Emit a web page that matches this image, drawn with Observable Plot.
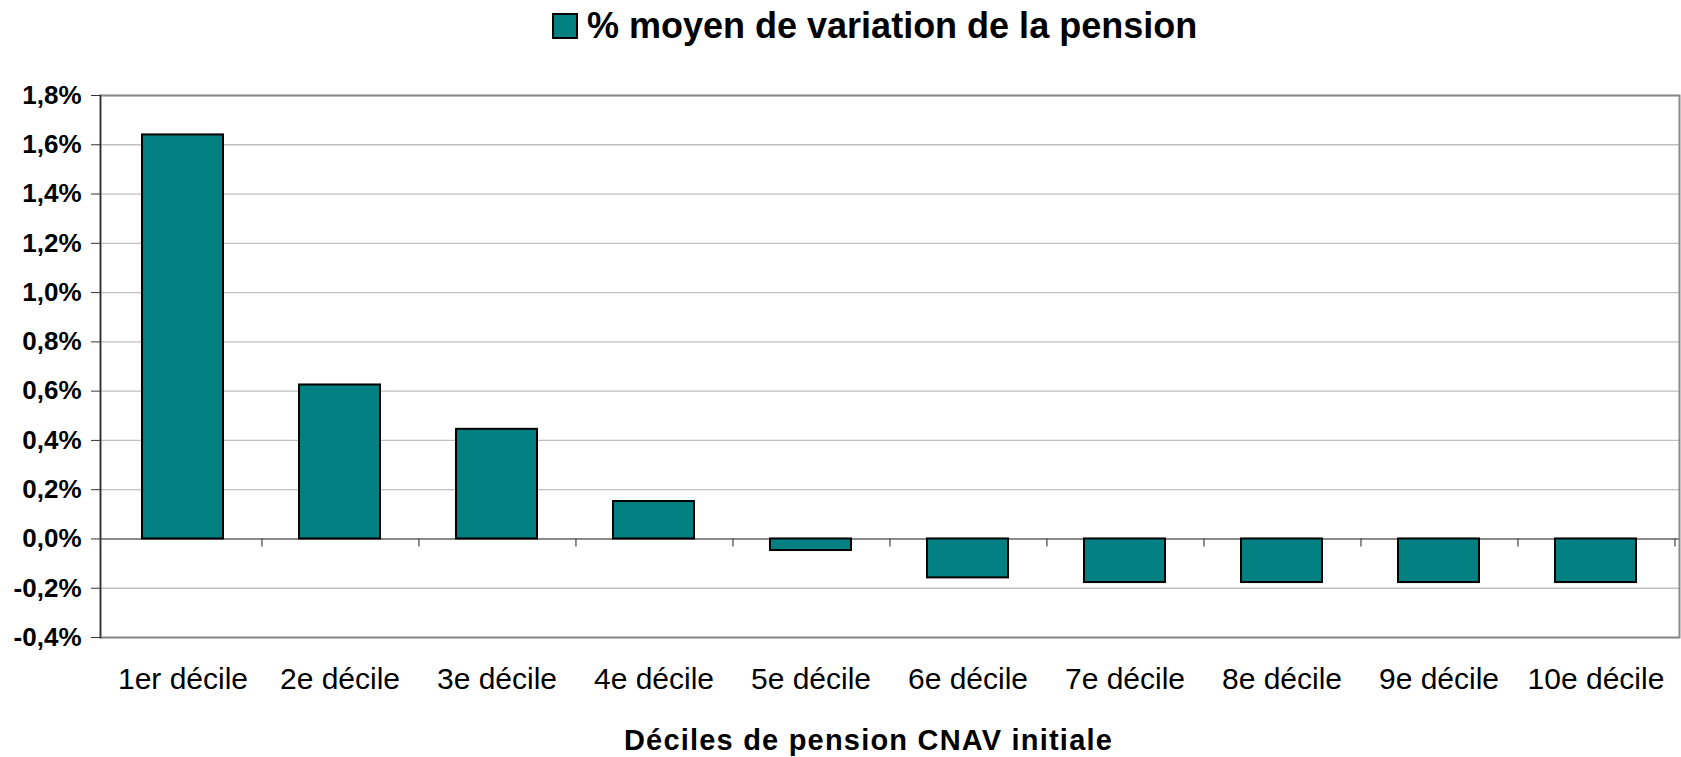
<!DOCTYPE html>
<html>
<head>
<meta charset="utf-8">
<script src="https://cdn.jsdelivr.net/npm/d3@7"></script>
<script src="https://cdn.jsdelivr.net/npm/@observablehq/plot@0.6"></script>
<style>
  html, body { margin: 0; padding: 0; background: #fff; overflow: hidden; }
  body { width: 1681px; height: 757px; position: relative; font-family: "Liberation Sans", Arial, sans-serif; }
  #legend { position: absolute; top: 0; left: 552px; height: 52px; display: flex; align-items: center; }
  #legend .sw { width: 22px; height: 22px; background: #008080; border: 2px solid #000; margin-right: 9px; }
  #legend .tx { font-size: 36px; font-weight: bold; color: #000; white-space: nowrap; }
  #chart { position: absolute; top: 58px; left: 0; }
  #caption { position: absolute; top: 705px; left: 0; width: 1681px; text-align: center;
             padding-left: 56px; box-sizing: border-box;
             font-size: 29px; font-weight: bold; letter-spacing: 1.2px; line-height: 36px; padding-top: 17px; color: #000; }
</style>
</head>
<body>
<div id="legend"><div class="sw"></div><div class="tx">% moyen de variation de la pension</div></div>
<div id="chart"></div>
<div id="caption">Déciles de pension CNAV initiale</div>
<script>
// Data
const categories = ["1er décile", "2e décile", "3e décile", "4e décile", "5e décile",
                    "6e décile", "7e décile", "8e décile", "9e décile", "10e décile"];
const values = [1.64, 0.625, 0.445, 0.152, -0.047, -0.158, -0.177, -0.177, -0.177, -0.177];
const yTicks = [-0.4, -0.2, 0, 0.2, 0.4, 0.6, 0.8, 1.0, 1.2, 1.4, 1.6, 1.8];

const data = categories.map((c, i) => ({cat: c, val: values[i]}));

const W = 1681, H = 647, mL = 100, mR = 2, mT = 37, mB = 68;
const step = (W - mL - mR) / categories.length;
const fmt = v => {
  const s = Math.abs(v).toFixed(1).replace(".", ",") + "%";
  return (v < -1e-9 ? "-" : "") + s;
};

const chart = Plot.plot({
  width: W, height: H,
  marginLeft: mL, marginRight: mR, marginTop: mT, marginBottom: mB,
  style: {fontFamily: "Liberation Sans, Arial, sans-serif", color: "#000", background: "#fff"},
  x: {type: "band", domain: categories, paddingInner: 0.483, paddingOuter: 0.2415, label: null},
  y: {domain: [-0.4, 1.8], label: null},
  marks: [
    Plot.gridY(yTicks, {stroke: "#c0c0c0", strokeOpacity: 1, strokeWidth: 1.3}),
    Plot.frame({stroke: "#8a8a8a", strokeWidth: 2}),
    Plot.ruleY([0], {stroke: "#707070", strokeWidth: 1.5}),
    Plot.ruleX(categories, {x: d => d, y1: 0, y2: 0, dx: step / 2, insetBottom: -8, stroke: "#444", strokeWidth: 1.2}),
    Plot.barY(data, {x: "cat", y: "val", fill: "#008080", stroke: "#000", strokeWidth: 2}),
    Plot.frame({anchor: "left", stroke: "#333", strokeWidth: 1.5}),
    Plot.axisY({ticks: yTicks, tickFormat: fmt, tickSize: 9, tickPadding: 10, fontSize: 26, fontWeight: "bold", stroke: "#333", label: null}),
    Plot.axisX({anchor: "bottom", tickSize: 0, tickPadding: 30, fontSize: 30, label: null})
  ]
});
document.getElementById("chart").appendChild(chart);
</script>
</body>
</html>
